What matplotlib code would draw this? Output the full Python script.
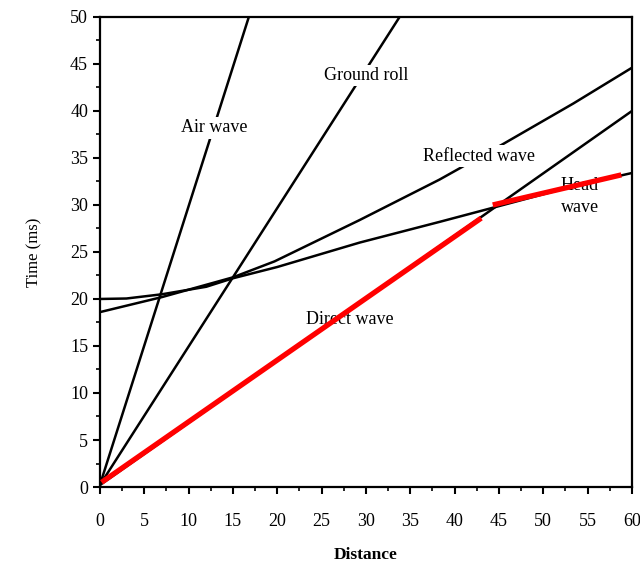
import matplotlib.pyplot as plt
from matplotlib.ticker import MultipleLocator

config = {
    "font.family": ['Liberation Serif', 'DejaVu Serif'],
    "font.size": 12,
}
plt.rcParams.update(config)

# straight arrivals (distance, time)
air_x = [0, 16.8]
air_t = [0.2, 50]
ground_x = [0, 33.8]
ground_t = [0.2, 50]
direct_x = [0, 60]
direct_t = [0.2, 40]

# curved arrivals
reflected_x = [0, 7, 15, 19.7, 24.5, 29.3, 38.3, 45.5, 53.4, 60]
reflected_t = [18.6, 20.2, 22.3, 24.0, 26.2, 28.4, 32.7, 36.5, 40.8, 44.6]
flat_x = [0, 3, 7, 12, 15, 20, 29.3, 38.3, 44.3, 53.4, 60]
flat_t = [20.0, 20.05, 20.5, 21.3, 22.2, 23.4, 26.0, 28.2, 29.7, 32.0, 33.4]

# red highlight segments
red1_x = [0.2, 43.0]
red1_t = [0.5, 28.6]
red2_x = [44.3, 58.8]
red2_t = [30.0, 33.2]

labels = ["Air wave", "Ground roll", "Reflected wave", "Head\nwave", "Direct wave"]
label_x = [12.85, 30.0, 42.8, 54.1, 28.2]
label_t = [38.2, 43.8, 35.2, 30.9, 17.8]

fig = plt.figure(figsize=(6.4, 5.64), dpi=100)
ax = fig.add_axes([0.156, 0.1365, 0.8315, 0.8335])

for xs, ts in [(air_x, air_t), (ground_x, ground_t), (direct_x, direct_t),
               (reflected_x, reflected_t), (flat_x, flat_t)]:
    ax.plot(xs, ts, color='black', lw=1.8, zorder=2)

ax.plot(red1_x, red1_t, color='red', lw=3.8, solid_capstyle='butt', zorder=5)
ax.plot(red2_x, red2_t, color='red', lw=3.8, solid_capstyle='butt', zorder=5)

for i, lab in enumerate(labels):
    if lab in ("Air wave", "Ground roll", "Reflected wave"):
        ax.text(label_x[i], label_t[i], lab, ha='center', va='center', fontsize=13,
                zorder=3, bbox=dict(facecolor='white', edgecolor='none', pad=1.5))
    else:
        ax.text(label_x[i], label_t[i], lab, ha='center', va='center', fontsize=13,
                zorder=3, linespacing=1.35)

ax.set_xlim(0, 60)
ax.set_ylim(0, 50)
ax.xaxis.set_major_locator(MultipleLocator(5))
ax.xaxis.set_minor_locator(MultipleLocator(2.5))
ax.yaxis.set_major_locator(MultipleLocator(5))
ax.yaxis.set_minor_locator(MultipleLocator(2.5))
ax.tick_params(which='major', direction='out', length=5, width=1.5, labelsize=13,
               top=False, right=False)
ax.tick_params(which='minor', direction='out', length=3, width=1.2, top=False, right=False)
ax.tick_params(axis='x', pad=14)
for sp in ax.spines.values():
    sp.set_linewidth(1.6)

ax.set_xlabel("Distance", fontsize=12.5, fontweight='bold', labelpad=12)
ax.set_ylabel("Time (ms)", fontsize=12, labelpad=20)

plt.savefig("out.png", dpi=100)
